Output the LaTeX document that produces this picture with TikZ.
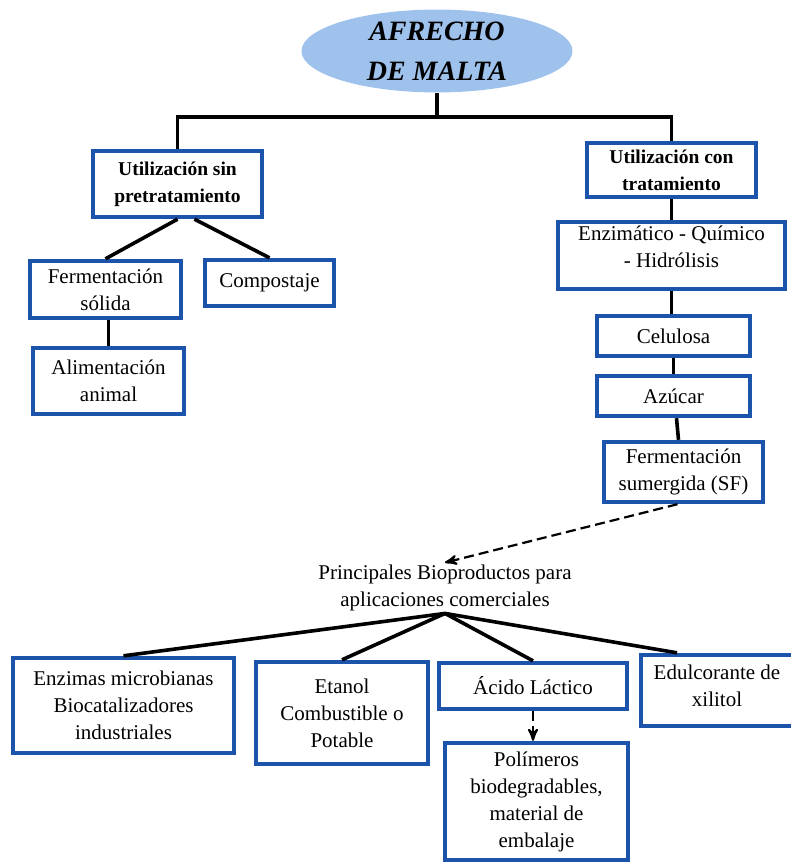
\documentclass[tikz,border=0pt]{standalone}
\usepackage{fontspec}
\setmainfont{Liberation Serif}
\usetikzlibrary{arrows,shapes}

\definecolor{boxblue}{RGB}{28,84,172}
\definecolor{rootblue}{RGB}{158,194,236}

\tikzset{
  box/.style={draw=boxblue,line width=2.2pt,fill=white,align=center,inner sep=1pt,
    font=\fontsize{10.5}{13.5}\selectfont},
  headbox/.style={box,font=\fontsize{9.75}{13.5}\selectfont\bfseries},
  link/.style={line width=1.8pt},
  dlink/.style={line width=1.1pt,dash pattern=on 5pt off 2.5pt,->}
}

\begin{document}
\begin{tikzpicture}[x=0.5pt,y=-0.5pt,>=stealth']
  \useasboundingbox (0,0) rectangle (791,863);
  \node[ellipse,fill=rootblue,minimum width=135.5pt,minimum height=41pt,inner sep=0pt,
        align=center,font=\fontsize{14}{20}\selectfont\bfseries\itshape] (afrecho) at (437,51) {AFRECHO\\DE MALTA};
  \node[headbox,minimum width=84.5pt,minimum height=33pt] (sinpre) at (177.5,184) {Utilización sin\\pretratamiento};
  \node[headbox,minimum width=84.5pt,minimum height=27pt] (conpre) at (671.5,170) {Utilización con\\tratamiento};
  \node[box,minimum width=75.5pt,minimum height=28.5pt] (fsolida) at (105.5,289.5) {Fermentación\\sólida};
  \node[box,minimum width=64.5pt,minimum height=23pt]   (compost) at (269.5,283) {Compostaje};
  \node[box,minimum width=75.5pt,minimum height=33pt]   (alim) at (108.5,381) {Alimentación\\animal};
  \node[box,minimum width=113.5pt,minimum height=33.5pt,text depth=9pt] (enzqui) at (671.5,255.5) {Enzimático - Químico\\- Hidrólisis};
  \node[box,minimum width=76.5pt,minimum height=20pt]   (celulosa) at (673.5,336) {Celulosa};
  \node[box,minimum width=76.5pt,minimum height=20pt]   (azucar) at (673.5,396) {Azúcar};
  \node[box,minimum width=79.5pt,minimum height=30pt]   (fsumer) at (683.5,472) {Fermentación\\sumergida (SF)};
  \node[align=center,inner sep=1pt,font=\fontsize{10.5}{13.5}\selectfont] (biop) at (445,588) {Principales Bioproductos para\\aplicaciones comerciales};
  \node[box,minimum width=110.5pt,minimum height=47.5pt] (enzimas) at (123.5,705.5) {Enzimas microbianas\\Biocatalizadores\\industriales};
  \node[box,minimum width=86pt,minimum height=51pt]      (etanol) at (342,713) {Etanol\\Combustible o\\Potable};
  \node[box,minimum width=94pt,minimum height=23pt]      (acido) at (533,686) {Ácido Láctico};
  \node[box,minimum width=76pt,minimum height=35.5pt,text depth=5pt] (edulc) at (717,690.5) {Edulcorante de\\xilitol};
  \node[box,minimum width=91.5pt,minimum height=58.5pt]  (polim) at (536.5,801.5) {Polímeros\\biodegradables,\\material de\\embalaje};

  \coordinate (split) at (437,117);
  \draw[link] (afrecho.south) -- (split);
  \draw[link] (sinpre.north) |- (split) -| (conpre.north);
  \draw[link] (sinpre.south) -- (fsolida.north);
  \draw[link] ([xshift=8.5pt]sinpre.south) -- (compost.north);
  \draw[link] (alim.north |- fsolida.south) -- (alim.north);
  \draw[link] (conpre.south) -- (enzqui.north);
  \draw[link] (enzqui.south) -- (enzqui.south |- celulosa.north);
  \draw[link] (celulosa.south) -- (azucar.north);
  \draw[link] ([xshift=1.5pt]azucar.south) -- ([xshift=-2.5pt]fsumer.north);
  \draw[dlink] ([xshift=-3pt]fsumer.south) -- (biop.north);
  \draw[link] (biop.south) -- (enzimas.north);
  \draw[link] (biop.south) -- (etanol.north);
  \draw[link] (biop.south) -- (acido.north);
  \draw[link] (biop.south) -- ([xshift=-20pt]edulc.north);
  \draw[dlink] (acido.south) -- (acido.south |- polim.north);
\end{tikzpicture}
\end{document}
